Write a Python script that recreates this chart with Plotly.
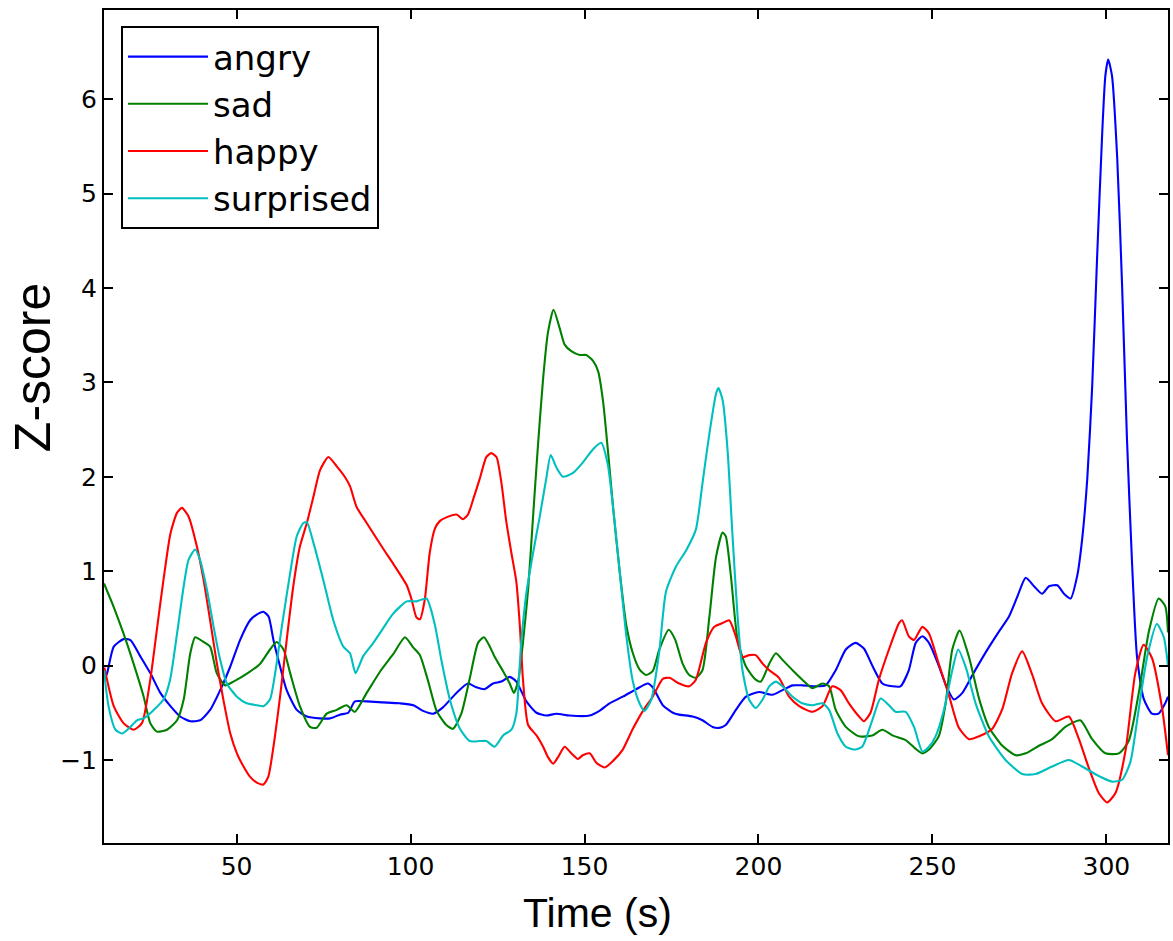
import plotly.graph_objects as go

# ---------------- data ----------------
angry_x = [12.0, 12.8, 14.7, 17.5, 19.5, 22.3, 25.2, 28.1, 31.0, 33.8, 36.7, 39.5, 42.4, 45.3, 48.2,
           51.0, 53.9, 55.8, 57.7, 59.2, 60.6, 62.5, 64.4, 67.3, 70.2, 74.0, 76.9, 79.7, 82.1, 84.0,
           87.4, 92.1, 96.9, 100.8, 103.6, 106.5, 109.4, 113.2, 116.5, 118.9, 121.3, 123.7, 126.1,
           128.5, 130.4, 133.3, 136.2, 139.0, 141.9, 145.7, 151.5, 154.3, 157.2, 161.0, 164.9, 168.2,
           169.6, 172.5, 175.4, 177.2, 181.1, 183.9, 186.8, 188.7, 190.6, 193.5, 196.4, 200.2, 204.0,
           206.9, 209.8, 212.6, 216.5, 219.3, 222.2, 225.1, 227.9, 230.3, 232.7, 235.6, 238.5, 240.8,
           243.2, 245.2, 247.1, 249.0, 251.8, 254.0, 256.2, 258.6, 261.5, 265.3, 269.1, 272.0, 274.4,
           276.8, 279.2, 281.5, 283.5, 285.9, 287.8, 289.7, 291.6, 293.0, 294.5, 295.9, 297.3, 298.8,
           299.7, 300.5, 301.6, 303.1, 304.5, 305.9, 307.4, 308.8, 310.7, 313.1, 315.0, 316.9, 317.7]
angry_y = [-0.15, -0.08, 0.20, 0.28, 0.27, 0.10, -0.08, -0.29, -0.43, -0.54, -0.59, -0.58, -0.47, -0.26, -0.01,
           0.27, 0.48, 0.54, 0.57, 0.52, 0.27, -0.01, -0.26, -0.47, -0.54, -0.56, -0.56, -0.52, -0.50, -0.38,
           -0.38, -0.39, -0.40, -0.42, -0.48, -0.51, -0.44, -0.29, -0.19, -0.23, -0.25, -0.19, -0.17,
           -0.12, -0.17, -0.38, -0.50, -0.53, -0.51, -0.53, -0.53, -0.48, -0.40, -0.33, -0.25, -0.19,
           -0.23, -0.42, -0.50, -0.52, -0.54, -0.58, -0.65, -0.66, -0.63, -0.47, -0.33, -0.28, -0.31,
           -0.26, -0.21, -0.21, -0.22, -0.21, -0.05, 0.17, 0.24, 0.18, 0.00, -0.19, -0.22, -0.22,
           -0.05, 0.24, 0.31, 0.24, 0.00, -0.22, -0.36, -0.29, -0.10, 0.14, 0.36, 0.52, 0.73,
           0.93, 0.84, 0.76, 0.84, 0.85, 0.76, 0.71, 0.95, 1.33, 1.98, 2.95, 4.30, 5.65,
           6.25, 6.42, 6.25, 5.38, 4.03, 2.41, 1.06, 0.09, -0.35, -0.51, -0.51, -0.40, -0.33]

sad_x = [11.9, 14.7, 17.5, 20.4, 23.3, 25.2, 27.1, 30.0, 32.9, 34.8, 36.7, 38.1, 40.5, 42.4, 44.3,
         46.7, 49.1, 53.2, 56.8, 59.6, 61.5, 63.5, 65.4, 68.2, 71.1, 73.0, 75.9, 78.8, 81.6, 84.0,
         87.4, 91.5, 95.0, 98.4, 100.8, 102.7, 105.1, 107.5, 110.3, 112.2, 114.6, 117.0, 119.4, 121.1,
         122.8, 124.2, 126.6, 128.5, 129.7, 130.9, 132.3, 133.8, 135.2, 136.6, 138.1, 139.5, 141.1,
         142.9, 144.3, 146.2, 148.6, 150.5, 152.4, 153.9, 155.3, 156.7, 158.2, 160.1, 162.0, 163.9,
         165.8, 167.7, 169.6, 171.5, 174.2, 176.0, 178.2, 180.1, 182.0, 183.9, 185.9, 187.8, 189.7,
         190.6, 192.1, 194.0, 196.4, 199.2, 200.7, 203.1, 205.0, 206.9, 209.8, 212.6, 215.5, 218.4,
         220.3, 222.2, 225.1, 228.9, 232.7, 235.6, 238.5, 242.3, 245.1, 247.1, 249.0, 251.8, 253.8,
         255.7, 257.8, 260.5, 263.4, 266.2, 270.1, 273.9, 276.8, 280.6, 284.4, 288.2, 292.5, 295.9,
         299.7, 303.6, 306.4, 309.3, 312.2, 315.0, 316.9, 317.7]
sad_y = [0.87, 0.62, 0.34, 0.02, -0.33, -0.61, -0.70, -0.68, -0.58, -0.36, 0.13, 0.30, 0.25, 0.20, -0.08,
         -0.21, -0.17, -0.08, 0.02, 0.17, 0.25, 0.17, -0.08, -0.43, -0.65, -0.66, -0.51, -0.47, -0.42, -0.49,
         -0.29, -0.05, 0.12, 0.30, 0.19, 0.11, -0.17, -0.48, -0.63, -0.67, -0.51, -0.14, 0.24, 0.30,
         0.20, 0.09, -0.06, -0.19, -0.29, -0.17, 0.24, 0.81, 1.57, 2.32, 3.04, 3.53, 3.77,
         3.57, 3.40, 3.33, 3.29, 3.29, 3.23, 3.12, 2.81, 2.29, 1.68, 1.00, 0.43, 0.13,
         -0.04, -0.10, -0.06, 0.17, 0.38, 0.28, 0.02, -0.10, -0.13, -0.05, 0.52, 1.15, 1.41,
         1.37, 0.94, 0.27, -0.01, -0.15, -0.17, 0.02, 0.13, 0.06, -0.05, -0.15, -0.24, -0.19,
         -0.22, -0.47, -0.65, -0.75, -0.74, -0.68, -0.74, -0.79, -0.88, -0.93, -0.89, -0.75, -0.40,
         0.17, 0.37, 0.09, -0.35, -0.65, -0.85, -0.95, -0.93, -0.85, -0.78, -0.65, -0.58, -0.78,
         -0.93, -0.93, -0.80, -0.29, 0.36, 0.71, 0.63, 0.35]

happy_x = [12.0, 14.7, 17.5, 20.4, 22.8, 25.2, 27.1, 29.0, 31.0, 32.9, 34.3, 36.2, 38.6, 40.5, 42.4,
           44.3, 46.2, 48.2, 50.1, 52.0, 53.9, 55.8, 57.7, 59.1, 60.6, 62.5, 64.4, 66.3, 68.2, 70.2,
           72.1, 74.0, 76.4, 78.8, 81.1, 82.6, 84.5, 87.4, 92.1, 95.0, 98.9, 100.3, 101.7, 102.7,
           104.1, 105.5, 107.0, 108.4, 110.3, 113.2, 115.1, 116.5, 118.0, 119.9, 121.8, 123.2, 124.7,
           126.1, 127.5, 129.0, 130.4, 131.4, 132.3, 133.8, 136.2, 138.1, 139.5, 141.0, 142.4, 144.3,
           146.2, 148.1, 149.5, 151.5, 153.4, 155.8, 158.2, 161.0, 163.9, 166.8, 169.6, 172.5, 174.4,
           177.2, 180.1, 182.0, 184.9, 187.3, 189.7, 191.6, 193.5, 195.4, 197.3, 199.2, 201.2, 203.1,
           205.9, 208.8, 211.7, 215.5, 218.4, 221.2, 223.6, 226.0, 228.9, 230.3, 232.2, 234.6, 237.5,
           240.4, 241.3, 243.2, 244.7, 247.1, 249.0, 251.8, 254.7, 257.6, 260.5, 263.4, 267.2, 270.1,
           272.9, 275.8, 278.7, 281.5, 285.4, 289.2, 292.1, 294.9, 297.8, 300.2, 302.6, 305.5, 308.3,
           310.7, 313.1, 316.0, 317.7]
happy_y = [-0.02, -0.43, -0.61, -0.68, -0.61, -0.15, 0.38, 0.91, 1.40, 1.62, 1.67, 1.58, 1.26, 0.91, 0.48,
           0.03, -0.36, -0.72, -0.93, -1.07, -1.18, -1.24, -1.26, -1.18, -0.86, -0.33, 0.27, 0.84, 1.26, 1.51,
           1.79, 2.07, 2.21, 2.11, 2.00, 1.90, 1.68, 1.51, 1.24, 1.08, 0.85, 0.70, 0.51, 0.49,
           0.70, 1.19, 1.45, 1.53, 1.57, 1.60, 1.55, 1.60, 1.76, 1.98, 2.21, 2.25, 2.21,
           1.94, 1.53, 1.19, 0.89, 0.43, -0.14, -0.63, -0.74, -0.86, -0.97, -1.04, -0.97, -0.86,
           -0.93, -0.99, -0.95, -0.93, -1.03, -1.08, -1.01, -0.89, -0.67, -0.48, -0.33, -0.14, -0.13,
           -0.19, -0.22, -0.15, 0.24, 0.41, 0.45, 0.48, 0.31, 0.09, 0.11, 0.11, 0.02, -0.05,
           -0.13, -0.33, -0.43, -0.49, -0.43, -0.22, -0.26, -0.40, -0.54, -0.59, -0.50, -0.15, 0.17,
           0.45, 0.48, 0.31, 0.27, 0.41, 0.34, 0.02, -0.31, -0.66, -0.78, -0.75, -0.67, -0.46,
           -0.08, 0.15, -0.10, -0.40, -0.59, -0.54, -0.78, -1.08, -1.35, -1.45, -1.35, -0.90, -0.08,
           0.22, 0.08, -0.45, -0.95]

surprised_x = [11.9, 13.2, 15.2, 17.1, 19.5, 21.4, 23.3, 26.2, 29.0, 30.9, 32.9, 34.8, 36.2, 38.1, 39.5,
               41.5, 43.4, 45.3, 47.2, 50.1, 52.9, 55.8, 57.7, 59.6, 61.1, 63.0, 65.4, 67.3, 69.2, 70.2,
               72.1, 74.9, 77.8, 80.7, 82.6, 84.2, 86.4, 89.3, 92.2, 95.0, 98.9, 101.7, 104.6, 107.0,
               108.9, 111.3, 114.2, 117.0, 119.9, 121.8, 124.2, 126.6, 129.0, 130.4, 131.8, 133.3, 135.2,
               137.1, 139.0, 140.3, 141.9, 143.8, 146.7, 149.5, 152.4, 154.8, 156.7, 158.2, 160.1, 162.0,
               163.9, 165.8, 167.2, 169.2, 171.5, 173.4, 176.3, 179.2, 182.0, 183.9, 185.9, 187.8, 188.5,
               189.7, 191.1, 192.5, 194.0, 195.4, 197.3, 199.2, 201.2, 203.1, 205.0, 206.9, 209.8, 212.6,
               215.5, 218.4, 220.3, 222.7, 225.1, 227.5, 229.8, 232.7, 235.1, 237.5, 239.4, 242.3, 244.7,
               247.1, 249.0, 250.9, 253.3, 255.7, 257.4, 259.6, 262.4, 266.2, 271.0, 275.8, 279.6, 284.4,
               289.2, 293.0, 297.8, 301.6, 304.5, 306.9, 309.3, 311.7, 314.5, 316.5, 317.7]
surprised_y = [-0.05, -0.43, -0.68, -0.72, -0.65, -0.58, -0.56, -0.47, -0.36, -0.15, 0.34, 0.84, 1.12, 1.23, 1.12,
               0.80, 0.41, 0.06, -0.19, -0.33, -0.40, -0.42, -0.43, -0.36, -0.08, 0.41, 0.98, 1.37, 1.51, 1.52,
               1.30, 0.91, 0.48, 0.20, 0.13, -0.08, 0.10, 0.24, 0.40, 0.55, 0.68, 0.68, 0.71, 0.43,
               0.05, -0.36, -0.67, -0.80, -0.80, -0.80, -0.86, -0.74, -0.68, -0.51, 0.24, 0.77, 1.19,
               1.57, 1.98, 2.23, 2.10, 2.00, 2.04, 2.15, 2.29, 2.36, 2.13, 1.68, 1.00, 0.32,
               -0.17, -0.40, -0.48, -0.36, 0.15, 0.78, 1.05, 1.22, 1.44, 1.93, 2.46, 2.88, 2.94,
               2.81, 2.29, 1.40, 0.52, -0.05, -0.36, -0.45, -0.36, -0.22, -0.17, -0.22, -0.33, -0.40,
               -0.42, -0.40, -0.47, -0.72, -0.86, -0.89, -0.86, -0.58, -0.35, -0.42, -0.49, -0.49, -0.65,
               -0.91, -0.86, -0.75, -0.47, -0.05, 0.17, -0.02, -0.40, -0.75, -1.00, -1.15, -1.15, -1.07,
               -1.00, -1.07, -1.17, -1.23, -1.21, -1.02, -0.46, 0.09, 0.44, 0.30, 0.00]

series_names = ["angry", "sad", "happy", "surprised"]
series_colors = ["#0000ff", "#008000", "#ff0000", "#00bfbf"]
x_ticks = [50, 100, 150, 200, 250, 300]
y_ticks = [-1, 0, 1, 2, 3, 4, 5, 6]

# ---------------- figure ----------------
FIG_W, FIG_H = 1173, 941
PLOT_L, PLOT_R, PLOT_T, PLOT_B = 104, 1170, 10, 843  # plot-area edges in page pixels
PW, PH = PLOT_R - PLOT_L, PLOT_B - PLOT_T

fig = go.Figure()
all_x = [angry_x, sad_x, happy_x, surprised_x]
all_y = [angry_y, sad_y, happy_y, surprised_y]
for name, color, xs, ys in zip(series_names, series_colors, all_x, all_y):
    fig.add_trace(go.Scatter(
        x=xs, y=ys, mode="lines", name=name, legendgroup=name,
        line=dict(color=color, width=2.1, shape="spline", smoothing=0.6),
    ))

axis_common = dict(
    showline=True, linecolor="black", linewidth=2, mirror="allticks",
    ticks="inside", ticklen=9, tickwidth=1.5, tickcolor="black",
    showgrid=False, zeroline=False,
    tickfont=dict(family="DejaVu Sans", size=25, color="black"),
)

fig.update_layout(
    width=FIG_W, height=FIG_H,
    margin=dict(l=PLOT_L, r=FIG_W - PLOT_R, t=PLOT_T, b=FIG_H - PLOT_B),
    paper_bgcolor="white", plot_bgcolor="white",
    showlegend=True,
    legend=dict(
        x=(121 - PLOT_L) / PW, y=1 - (26 - PLOT_T) / PH, xanchor="left", yanchor="top",
        bgcolor="white", bordercolor="black", borderwidth=2,
        font=dict(family="DejaVu Sans", size=34, color="black"),
        itemwidth=80, tracegroupgap=10, traceorder="normal",
    ),
    xaxis=dict(range=[11.9, 317.7], tickvals=x_ticks, **axis_common),
    yaxis=dict(range=[-1.88, 6.945], tickvals=y_ticks, **axis_common),
    annotations=[
        dict(text="Time (s)", xref="paper", yref="paper",
             x=(598 - PLOT_L) / PW, y=-(913 - PLOT_B) / PH, xanchor="center", yanchor="middle",
             showarrow=False, font=dict(family="Liberation Sans", size=41, color="black")),
        dict(text="Z-score", xref="paper", yref="paper",
             x=-(PLOT_L - 33) / PW, y=(PLOT_B - 368) / PH, xanchor="center", yanchor="middle",
             textangle=-90, showarrow=False,
             font=dict(family="Liberation Sans", size=50, color="black")),
    ],
)

# remove the browser's default 8px body margin so the figure fills the window exactly
fig.write_html("out.html", config={"displayModeBar": False},
               post_script="document.body.style.margin='0px';")
